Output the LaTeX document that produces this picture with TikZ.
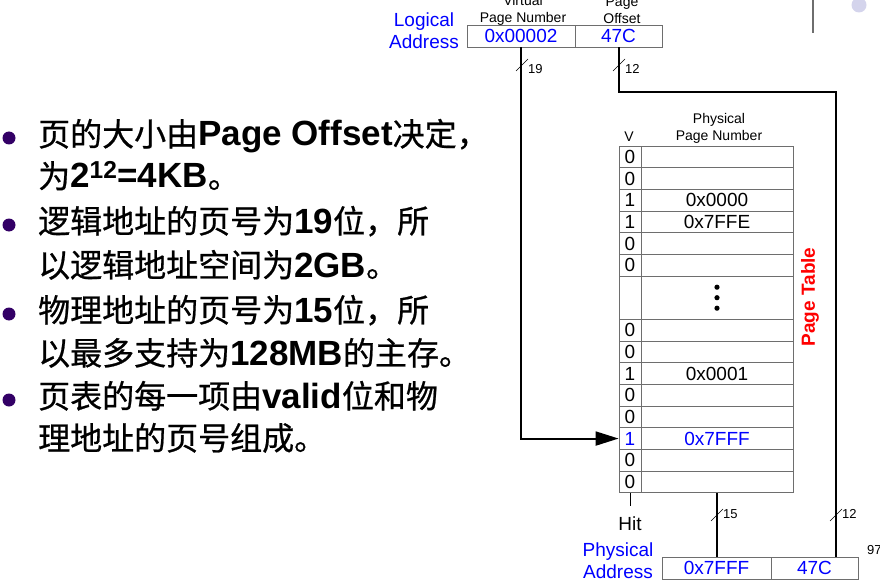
\documentclass[tikz,border=0pt]{standalone}
\usepackage{fontspec}
\setmainfont{Liberation Sans}
\newfontfamily\cjk[FakeBold=0.7]{Noto Sans CJK SC}
\usetikzlibrary{arrows.meta}
\definecolor{bulletpurple}{RGB}{51,0,102}
\definecolor{dimgray}{RGB}{110,110,110}
\definecolor{lavender}{RGB}{212,212,236}
\newcommand{\zh}[1]{{\cjk #1}}
\newcommand{\en}[1]{{\fontsize{35}{44}\selectfont\bfseries #1}}

\begin{document}
\begin{tikzpicture}[
  x=1pt, y=-1pt,
  cell/.style={draw=dimgray, line width=0.8pt, inner sep=0pt, minimum height=21.67pt},
  vcell/.style={cell, minimum width=22pt},
  pcell/.style={cell, minimum width=152pt},
  val/.style={font=\fontsize{19}{21}\selectfont},
  lbl/.style={font=\fontsize{14}{17}\selectfont, align=center, inner sep=0pt},
  bits/.style={font=\fontsize{13}{15}\selectfont, inner sep=1pt},
  addr/.style={font=\fontsize{19}{22}\selectfont, text=blue, align=center, inner sep=0pt},
  bus/.style={line width=2pt},
  tick/.style={line width=0.6pt},
  say/.style={font=\fontsize{32}{44}\selectfont, anchor=base west, inner sep=0pt},
  dot/.style={circle, fill=bulletpurple, inner sep=0pt, minimum size=13pt}
]
  \clip (0,0) rectangle (880,588);

  % slide leftovers
  \draw[line width=1.5pt, dimgray] (813,0) -- (813,33);
  \fill[lavender] (859,5) circle (7.5pt);
  \node[bits, anchor=west] (pgno) at (866,550) {97};

  % bullet text
  \node[dot] (d1) at (9,138) {};
  \node[say] (s1a) at (38,146) {\zh{页的大小由}\en{Page Offset}\zh{决定，}};
  \node[say] (s1b) at (38,188) {\zh{为}\en{2\textsuperscript{12}=4KB}\zh{。}};
  \node[dot] (d2) at (9,225) {};
  \node[say] (s2a) at (38,233) {\zh{逻辑地址的页号为}\en{19}\zh{位，所}};
  \node[say] (s2b) at (38,277) {\zh{以逻辑地址空间为}\en{2GB}\zh{。}};
  \node[dot] (d3) at (9,314) {};
  \node[say] (s3a) at (38,322) {\zh{物理地址的页号为}\en{15}\zh{位，所}};
  \node[say] (s3b) at (38,365) {\zh{以最多支持为}\en{128MB}\zh{的主存。}};
  \node[dot] (d4) at (9,400) {};
  \node[say] (s4a) at (38,408) {\zh{页表的每一项由}\en{valid}\zh{位和物}};
  \node[say] (s4b) at (38,450) {\zh{理地址的页号组成。}};

  % logical address
  \node[addr] (laddr) at (424,31) {Logical\\Address};
  \node[lbl] (vpnlbl) at (523,10.5) {Virtual\\Page Number};
  \node[lbl] (offlbl) at (622,10.5) {Page\\Offset};
  \node[cell, minimum width=108pt, minimum height=22pt, val, text=blue] (vpn) at (521,36) {0x00002};
  \node[cell, minimum width=87pt, minimum height=22pt, val, text=blue] (off) at (618.5,36) {47C};

  % page table
  \node[lbl] (vlbl) at (629,137) {V};
  \node[lbl] (ppnlbl) at (719,128.5) {Physical\\Page Number};
  \foreach \i/\v/\p in {0/0/{},1/0/{},2/1/0x0000,3/1/0x7FFE,4/0/{},5/0/{},
                        8/0/{},9/0/{},10/1/0x0001,11/0/{},12/0/{},14/0/{},15/0/{}} {
    \node[vcell, val] (v\i) at (630,{146+21.67*(\i+0.5)}) {\v};
    \node[pcell, val] (p\i) at (717,{146+21.67*(\i+0.5)}) {\p};
  }
  \node[vcell, val, text=blue] (v13) at (630,{146+21.67*13.5}) {1};
  \node[pcell, val, text=blue] (p13) at (717,{146+21.67*13.5}) {0x7FFF};
  \node[vcell, minimum height=43.33pt] (vgap) at (630,{146+21.67*7}) {};
  \node[pcell, minimum height=43.33pt] (pgap) at (717,{146+21.67*7}) {};
  \foreach \d in {-10.5,0,10.5}
    \fill (pgap.center) ++(0,\d) circle (2.6pt);
  \node[rotate=90, text=red, font=\fontsize{19}{21}\selectfont\bfseries] (ptlbl) at (810,297) {Page Table};

  % physical address
  \node[addr] (paddr) at (618,561) {Physical\\Address};
  \node[cell, minimum width=109pt, minimum height=22pt, val, text=blue] (bppn) at (716.5,568) {0x7FFF};
  \node[cell, minimum width=87pt, minimum height=22pt, val, text=blue] (boff) at (814.5,568) {47C};
  \node[val] (hit) at (630,524) {Hit};

  % buses
  \coordinate (turn) at (836,92);
  \draw[bus, -{Triangle[length=23pt, width=14pt]}] (vpn.south) |- (v13.west);
  \draw[bus] (off.south) |- (turn) -- (turn |- boff.north);
  \draw[bus] (p15.south) -- (p15.south |- bppn.north);
  \draw[line width=0.8pt, shorten >=8pt] (v15.south) -- (hit.north);

  % bus widths
  \draw[tick] (516,71) -- ++(12,-12);
  \node[bits, anchor=west] (w19) at (527,69) {19};
  \draw[tick] (613,71) -- ++(12,-12);
  \node[bits, anchor=west] (w12a) at (624,69) {12};
  \draw[tick] (711,521) -- ++(12,-12);
  \node[bits, anchor=west] (w15) at (722,514) {15};
  \draw[tick] (830,521) -- ++(12,-12);
  \node[bits, anchor=west] (w12b) at (841,514) {12};
\end{tikzpicture}
\end{document}
